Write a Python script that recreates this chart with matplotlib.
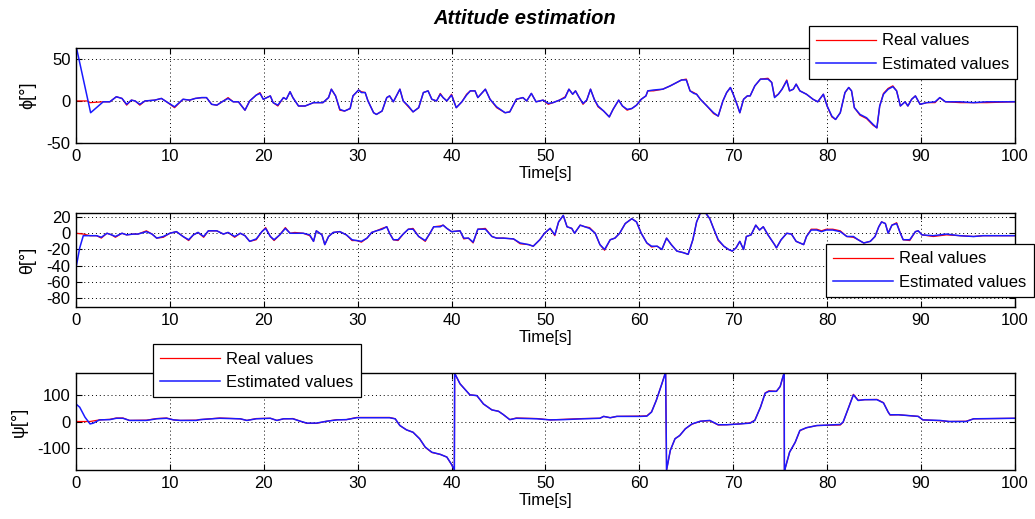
import matplotlib
matplotlib.use("Agg")
import matplotlib.pyplot as plt

plt.rcParams['font.family'] = ['Liberation Sans', 'DejaVu Sans']
plt.rcParams['axes.unicode_minus'] = False

# roll angle phi [deg]
phi_t = [0, 1.56, 2.9, 3.6, 4.3, 4.9, 5.4, 5.9, 6.3, 6.8, 7.35, 8.4, 9.1, 9.65, 10.5, 11.4, 12.1, 12.7,
         13.4, 13.9, 14.45, 15.0, 15.7, 16.2, 16.75, 17.3, 18.0, 18.5, 19.2, 19.6, 19.95, 20.7, 21.0, 21.5,
         22.1, 22.4, 22.8, 23.1, 23.7, 24.4, 25.3, 26.3, 26.9, 27.2, 27.65, 28.1, 28.6, 29.2, 29.5, 30.1,
         30.4, 30.8, 31.1, 31.7, 32.0, 32.6, 33.1, 33.4, 33.8, 34.5, 34.85, 35.4, 35.9, 36.5, 37.0, 37.5,
         37.9, 38.4, 38.8, 39.1, 39.5, 40.0, 40.5, 41.1, 41.6, 42.0, 42.5, 42.8, 43.6, 44.1, 44.8, 45.7,
         46.2, 46.9, 47.6, 48.0, 48.5, 49.0, 49.75, 50.3, 50.8, 51.5, 52.1, 52.5, 52.9, 53.2, 53.6, 54.0,
         54.4, 54.8, 55.2, 55.6, 56.2, 56.8, 57.2, 57.8, 58.2, 58.7, 59.2, 59.7, 60.2, 60.7, 60.9, 61.5,
         62.5, 63.3, 64.0, 64.5, 65.0, 65.4, 65.8, 66.1, 66.5, 67.2, 67.9, 68.4, 68.9, 69.3, 69.7, 70.0,
         70.4, 70.7, 71.1, 71.5, 71.8, 72.3, 72.9, 73.7, 74.1, 74.4, 74.8, 75.2, 75.7, 76.0, 76.4, 76.7,
         77.1, 77.8, 78.5, 79.0, 79.6, 80.0, 80.5, 80.9, 81.4, 81.9, 82.3, 82.6, 82.9, 83.5, 84.2, 84.9,
         85.3, 85.6, 86.0, 86.5, 87.0, 87.4, 87.8, 88.3, 88.6, 89.0, 89.4, 89.9, 90.6, 91.5, 92.0, 92.6,
         94.2, 95.6, 97.0, 100]
phi_est = [66, -14, -1, -1, 5, 3, -4, 1, 0, -4, 0, 1, 3, -1, -7, 2, 1, 3,
           4, 4, -4, -5, 0, 3, -1, -1, -11, 0, 7, 9, 2, 6, -2, -5,
           4, 2, 11, 4, -6, -6, -2, -2, 4, 14, 6, -10, -12, -9, 6, 13,
           10, 10, 0, -14, -16, -12, 4, 6, -1, 14, 0, -6, -13, -8, 10, 12,
           2, 0, 8, 4, 0, 7, -8, -1, 7, 12, 12, 4, 14, 2, -7, -14,
           -13, 2, 4, 0, 9, -1, 1, -3, -2, 1, 4, 14, 8, 12, 4, -3,
           1, 14, 2, -6, -12, -19, -10, 1, -6, -10, -9, -5, 2, 6, 12, 13,
           14, 18, 22, 25, 25, 12, 9, 8, 2, -6, -14, -18, 0, 10, 16, 8,
           -4, -14, 2, 6, 6, 18, 26, 26, 22, 4, 8, 14, 24, 12, 14, 20,
           12, 8, 2, -1, 8, -6, -18, -22, -14, 10, 16, 12, -8, -16, -20, -28,
           -32, -6, 8, 14, 17, 12, -6, -1, -6, 2, 6, -4, -2, -1, 4, -1,
           -1, -2, -1, -1]
phi_real_t = [0, 1.2, 1.5, 2.9, 3.6, 4.3, 4.9, 5.4, 5.9, 6.3, 6.8, 7.35, 8.4, 9.1, 9.65, 10.5, 11.4, 12.1,
              12.7, 13.4, 13.9, 14.45, 15.0, 15.7, 16.2, 16.75, 17.3, 18.0, 18.5, 19.2, 19.6, 19.95, 20.7,
              21.0, 21.5, 22.1, 22.4, 22.8, 23.1, 23.7, 24.4, 25.3, 26.3, 26.9, 27.2, 27.65, 28.1, 28.6, 29.2,
              29.5, 30.1, 30.4, 30.8, 31.1, 31.7, 32.0, 32.6, 33.1, 33.4, 33.8, 34.5, 34.85, 35.4, 35.9, 36.5,
              37.0, 37.5, 37.9, 38.4, 38.8, 39.1, 39.5, 40.0, 40.5, 41.1, 41.6, 42.0, 42.5, 42.8, 43.6, 44.1,
              44.8, 45.7, 46.2, 46.9, 47.6, 48.0, 48.5, 49.0, 49.75, 50.3, 50.8, 51.5, 52.1, 52.5, 52.9, 53.2,
              53.6, 54.0, 54.4, 54.8, 55.2, 55.6, 56.2, 56.8, 57.2, 57.8, 58.2, 58.7, 59.2, 59.7, 60.2, 60.7,
              60.9, 61.5, 62.5, 63.3, 64.0, 64.5, 65.0, 65.4, 65.8, 66.1, 66.5, 67.2, 67.9, 68.4, 68.9, 69.3,
              69.7, 70.0, 70.4, 70.7, 71.1, 71.5, 71.8, 72.3, 72.9, 73.7, 74.1, 74.4, 74.8, 75.2, 75.7, 76.0,
              76.4, 76.7, 77.1, 77.8, 78.5, 79.0, 79.6, 80.0, 80.5, 80.9, 81.4, 81.9, 82.3, 82.6, 82.9, 83.5,
              84.2, 84.9, 85.3, 85.6, 86.0, 86.5, 87.0, 87.4, 87.8, 88.3, 88.6, 89.0, 89.4, 89.9, 90.6, 91.5,
              92.0, 92.6, 94.2, 95.6, 97.0, 100]
phi_real = [0, 0, -2, -1, -1, 5, 3, -5, 1, 0, -5, 0, 1, 3, -1, -8, 2, 1,
            3, 4, 4, -4, -5, 0, 4, -1, -1, -11, 0, 7, 10, 2, 6, -2,
            -6, 4, 2, 11, 4, -6, -6, -2, -2, 4, 14, 6, -11, -12, -9,
            6, 13, 11, 10, 0, -14, -16, -12, 4, 6, -1, 14, 0, -7, -13, -8,
            10, 12, 2, 0, 9, 4, 0, 8, -8, -1, 8, 12, 12, 4, 14, 2,
            -8, -14, -13, 2, 4, 0, 9, -1, 1, -4, -2, 1, 5, 14, 8, 12,
            4, -4, 1, 14, 2, -7, -12, -19, -10, 1, -6, -11, -9, -5, 2, 6,
            12, 12, 14, 18, 22, 25, 26, 12, 10, 8, 2, -6, -15, -18, 0, 10,
            16, 8, -4, -14, 2, 6, 6, 18, 26, 27, 22, 5, 8, 14, 25, 12,
            14, 20, 12, 8, 2, -1, 8, -6, -19, -22, -14, 10, 16, 12, -8, -17,
            -21, -29, -32, -6, 9, 15, 18, 12, -6, -1, -6, 2, 6, -4, -2, -2,
            4, -1, -2, -2, -2, -1]

# pitch angle theta [deg]
theta_t = [0, 0.4, 0.78, 1.5, 2.2, 2.7, 3.3, 3.8, 4.2, 4.9, 5.4, 6.1, 6.6, 7.5, 8.1, 8.6, 9.3, 10.0,
           10.7, 11.4, 12.0, 12.5, 13.0, 13.6, 14.1, 15.0, 15.7, 16.2, 16.9, 17.5, 18.0, 18.5, 19.2, 19.8,
           20.2, 20.7, 21.1, 21.7, 22.3, 22.8, 23.3, 24.2, 24.9, 25.3, 25.6, 26.2, 26.5, 26.9, 27.4, 28.1,
           28.8, 29.4, 29.9, 30.4, 31.0, 31.5, 32.0, 32.6, 33.1, 33.4, 33.8, 34.3, 34.85, 35.4, 35.9, 36.5,
           37.2, 37.7, 38.1, 38.8, 39.1, 39.5, 40.0, 40.9, 41.3, 41.8, 42.3, 42.8, 43.6, 44.3, 44.8, 45.5,
           46.6, 47.3, 48.2, 48.7, 49.4, 49.9, 50.5, 51.0, 51.4, 51.9, 52.3, 52.8, 53.1, 53.7, 54.2, 54.7,
           55.3, 55.8, 56.3, 56.9, 57.4, 57.9, 58.5, 59.2, 59.7, 60.2, 60.8, 61.3, 61.9, 62.4, 62.9, 63.4,
           64.0, 64.7, 65.2, 65.7, 66.1, 66.5, 67.0, 67.5, 67.9, 68.4, 69.0, 69.5, 69.9, 70.3, 70.7, 71.1,
           71.4, 71.9, 72.4, 72.8, 73.2, 73.7, 74.4, 74.6, 75.1, 75.7, 76.2, 76.7, 77.5, 77.8, 78.3, 78.9,
           79.4, 79.9, 80.6, 81.4, 82.1, 82.8, 83.3, 83.9, 84.6, 85.1, 85.5, 85.8, 86.2, 86.5, 86.9, 87.4,
           87.8, 88.1, 88.8, 89.4, 89.7, 90.1, 91.3, 92.7, 94.1, 95.6, 96.6, 100]
theta_est = [-43, -18, -3, -3, -3, -5, 0, -2, -4, 0, -2, -1, -1, 2, -1, -6, -4, 0,
             2, -4, -8, -2, 1, -4, 3, 3, -1, 1, -4, 0, -3, -10, -7, 2,
             6, -4, -8, -2, 6, 0, 0, 0, -2, -10, 3, -2, -14, -4, 1, 2,
             -2, -8, -9, -10, -6, 1, 3, 5, 8, 0, -8, -8, -1, 5, 5, -4,
             -9, 0, 8, 8, 10, 6, 2, 3, -6, -6, -11, 5, 5, -4, -6, -6,
             -7, -12, -14, -16, -8, 0, 6, -2, 14, 22, 8, 6, 0, 10, 8, 6,
             0, -14, -20, -8, -6, 0, 12, 18, 14, 0, -12, -16, -16, -20, -6, -14,
             -22, -24, -26, -8, 14, 25, 26, 18, 6, -8, -16, -20, -22, -18, -10, -20,
             -4, -2, 10, 4, 8, -2, -14, -18, -8, 0, -1, -10, -14, -4, 4, 4,
             2, 4, 4, 2, -4, -4, -8, -12, -10, -4, 8, 14, 12, 0, 10, 12,
             0, -8, -8, 2, 3, -2, -3, -1, -3, -4, -3, -3]
theta_real_t = [0, 0.8, 1.5, 2.2, 2.7, 3.3, 3.8, 4.2, 4.9, 5.4, 6.1, 6.6, 7.5, 8.1, 8.6, 9.3, 10.0,
                10.7, 11.4, 12.0, 12.5, 13.0, 13.6, 14.1, 15.0, 15.7, 16.2, 16.9, 17.5, 18.0, 18.5, 19.2, 19.8,
                20.2, 20.7, 21.1, 21.7, 22.3, 22.8, 23.3, 24.2, 24.9, 25.3, 25.6, 26.2, 26.5, 26.9, 27.4, 28.1,
                28.8, 29.4, 29.9, 30.4, 31.0, 31.5, 32.0, 32.6, 33.1, 33.4, 33.8, 34.3, 34.85, 35.4, 35.9, 36.5,
                37.2, 37.7, 38.1, 38.8, 39.1, 39.5, 40.0, 40.9, 41.3, 41.8, 42.3, 42.8, 43.6, 44.3, 44.8, 45.5,
                46.6, 47.3, 48.2, 48.7, 49.4, 49.9, 50.5, 51.0, 51.4, 51.9, 52.3, 52.8, 53.1, 53.7, 54.2, 54.7,
                55.3, 55.8, 56.3, 56.9, 57.4, 57.9, 58.5, 59.2, 59.7, 60.2, 60.8, 61.3, 61.9, 62.4, 62.9, 63.4,
                64.0, 64.7, 65.2, 65.7, 66.1, 66.5, 67.0, 67.5, 67.9, 68.4, 69.0, 69.5, 69.9, 70.3, 70.7, 71.1,
                71.4, 71.9, 72.4, 72.8, 73.2, 73.7, 74.4, 74.6, 75.1, 75.7, 76.2, 76.7, 77.5, 77.8, 78.3, 78.9,
                79.4, 79.9, 80.6, 81.4, 82.1, 82.8, 83.3, 83.9, 84.6, 85.1, 85.5, 85.8, 86.2, 86.5, 86.9, 87.4,
                87.8, 88.1, 88.8, 89.4, 89.7, 90.1, 91.3, 92.7, 94.1, 95.6, 96.6, 100]
theta_real = [0, -1, -3, -3, -6, 0, -2, -5, 0, -2, -1, -1, 3, -1, -6, -5, 0,
              2, -4, -9, -2, 1, -5, 3, 3, -1, 1, -5, 0, -3, -10, -8, 2,
              7, -4, -9, -2, 7, 0, 1, 0, -3, -10, 3, -2, -14, -4, 1, 2,
              -2, -9, -9, -11, -6, 1, 3, 6, 8, 0, -8, -9, -1, 5, 6, -4,
              -10, 0, 8, 9, 10, 6, 2, 3, -7, -6, -12, 5, 6, -4, -6, -6,
              -7, -13, -14, -16, -8, 0, 6, -3, 14, 22, 8, 6, 0, 10, 8, 7,
              0, -14, -21, -8, -6, 0, 12, 18, 14, 0, -12, -17, -16, -20, -6, -14,
              -22, -24, -26, -8, 14, 25, 26, 18, 6, -9, -16, -20, -22, -18, -10, -20,
              -4, -2, 10, 4, 8, -2, -14, -18, -8, 0, -1, -10, -14, -4, 5, 5,
              3, 5, 5, 3, -4, -5, -8, -12, -10, -4, 8, 14, 12, 0, 10, 13,
              0, -8, -9, 2, 3, -2, -4, -2, -3, -4, -3, -3]

# yaw angle psi [deg]
psi_t = [0, 0.4, 0.96, 1.5, 1.85, 2.5, 3.6, 4.3, 5.0, 5.7, 7.5, 8.6, 9.65, 10.4, 11.1, 12.8, 13.2,
         15.3, 17.5, 18.2, 19.2, 20.7, 21.4, 22.1, 23.1, 23.9, 24.6, 25.6, 26.7, 27.8, 28.8, 29.9, 33.4,
         34.0, 34.5, 35.2, 35.9, 36.6, 37.2, 37.9, 38.8, 39.5, 40.0, 40.3, 40.33, 40.36, 40.9, 41.95, 42.7,
         43.4, 44.3, 45.0, 45.5, 46.2, 46.9, 49.1, 50.5, 51.9, 54.0, 55.8, 56.2, 56.9, 57.6, 60.1, 60.8,
         61.3, 61.8, 62.4, 62.75, 62.8, 62.9, 63.3, 63.8, 64.3, 64.9, 65.6, 66.5, 67.5, 68.4, 69.3, 70.7,
         71.8, 72.3, 72.9, 73.4, 73.8, 74.6, 75.0, 75.3, 75.42, 75.45, 75.5, 76.0, 76.6, 77.1, 77.8, 78.9,
         81.4, 81.7, 82.3, 82.8, 83.3, 84.0, 85.3, 86.0, 86.5, 86.7, 87.6, 89.7, 90.2, 92.0, 93.0, 94.8,
         95.6, 100]
psi_est = [65, 53, 16, -9, -6, 6, 7, 12, 12, 4, 4, 10, 12, 6, 4, 4, 7,
           12, 10, 4, 10, 12, 4, 10, 10, 1, -6, -6, 1, 6, 7, 14, 14,
           10, -15, -31, -40, -64, -95, -114, -122, -132, -159, -180, 180, 177, 140, 99, 96,
           65, 43, 38, 26, 7, 12, 10, 6, 7, 10, 12, 19, 14, 19, 19, 20,
           35, 78, 140, 178, 180, -180, -107, -64, -52, -27, -9, 1, 4, -12, -12, -9,
           -6, 4, 53, 105, 112, 112, 130, 167, 180, -180, -178, -114, -77, -33, -23, -15,
           -11, -2, 53, 99, 78, 81, 81, 69, 35, 25, 25, 19, 6, 4, 0, 0,
           10, 12]
psi_real_t = [0, 1.5, 2.5, 3.6, 4.3, 5.0, 5.7, 7.5, 8.6, 9.65, 10.4, 11.1, 12.8, 13.2,
              15.3, 17.5, 18.2, 19.2, 20.7, 21.4, 22.1, 23.1, 23.9, 24.6, 25.6, 26.7, 27.8, 28.8, 29.9, 33.4,
              34.0, 34.5, 35.2, 35.9, 36.6, 37.2, 37.9, 38.8, 39.5, 40.0, 40.3, 40.33, 40.36, 40.9, 41.95, 42.7,
              43.4, 44.3, 45.0, 45.5, 46.2, 46.9, 49.1, 50.5, 51.9, 54.0, 55.8, 56.2, 56.9, 57.6, 60.1, 60.8,
              61.3, 61.8, 62.4, 62.75, 62.8, 62.9, 63.3, 63.8, 64.3, 64.9, 65.6, 66.5, 67.5, 68.4, 69.3, 70.7,
              71.8, 72.3, 72.9, 73.4, 73.8, 74.6, 75.0, 75.3, 75.42, 75.45, 75.5, 76.0, 76.6, 77.1, 77.8, 78.9,
              81.4, 81.7, 82.3, 82.8, 83.3, 84.0, 85.3, 86.0, 86.5, 86.7, 87.6, 89.7, 90.2, 92.0, 93.0, 94.8,
              95.6, 100]
psi_real = [0, 0, 6, 8, 13, 13, 4, 5, 11, 13, 6, 4, 5, 7,
            13, 10, 4, 11, 12, 4, 10, 11, 1, -7, -7, 1, 7, 7, 15, 15,
            10, -15, -31, -40, -64, -96, -115, -122, -132, -160, -180, 180, 177, 140, 99, 96,
            65, 43, 38, 26, 7, 13, 11, 6, 8, 11, 12, 19, 14, 19, 20, 21,
            36, 78, 140, 178, 180, -180, -107, -64, -52, -27, -10, 1, 3, -13, -12, -9,
            -5, 5, 53, 106, 114, 112, 130, 167, 180, -180, -178, -114, -77, -34, -23, -15,
            -13, -3, 53, 101, 79, 81, 82, 70, 35, 24, 25, 19, 6, 3, 0, 1,
            10, 12]

panels = [
    (phi_t, phi_est, phi_real_t, phi_real, 'ϕ[°]', (-50, 63), [-50, 0, 50]),
    (theta_t, theta_est, theta_real_t, theta_real, 'θ[°]', (-91, 25), [-80, -60, -40, -20, 0, 20]),
    (psi_t, psi_est, psi_real_t, psi_real, 'ψ[°]', (-180, 180), [-100, 0, 100]),
]
ax_boxes = [
    [0.0734, 0.7245, 0.9072, 0.1830],
    [0.0734, 0.4085, 0.9072, 0.1811],
    [0.0734, 0.0944, 0.9072, 0.1869],
]
legend_pos = [('upper right', (0.9826, 0.950)),
              ('upper right', (0.9990, 0.530)),
              ('upper left', (0.1478, 0.337))]

fig = plt.figure(figsize=(10.35, 5.19), dpi=100)

for (t_est, y_est, t_real, y_real, ylab, ylim, yticks), box, (loc, anchor) in zip(panels, ax_boxes, legend_pos):
    ax = fig.add_axes(box)
    ax.plot(t_real, y_real, color='r', linewidth=0.9, label='Real values')
    ax.plot(t_est, y_est, color='#1a1aff', linewidth=1.1, label='Estimated values')
    ax.set_xlim(0, 100)
    ax.set_ylim(*ylim)
    ax.set_xticks(range(0, 101, 10))
    ax.set_yticks(yticks)
    ax.tick_params(direction='in', top=True, right=True, length=4, labelsize=12, pad=4)
    ax.grid(True, color='black', linestyle=(0, (1, 3)), linewidth=0.7)
    for s in ax.spines.values():
        s.set_linewidth(1.0)
    ax.set_xlabel('Time[s]', fontsize=12, labelpad=2)
    ax.set_ylabel(ylab, fontsize=13, labelpad=7)
    leg = ax.legend(loc=loc, bbox_to_anchor=anchor, bbox_transform=fig.transFigure,
                    fontsize=12, handlelength=3.6, labelspacing=0.5, borderpad=0.45,
                    handletextpad=0.35, fancybox=False, framealpha=1.0, borderaxespad=0)
    leg.get_frame().set_edgecolor('black')
    leg.get_frame().set_linewidth(0.9)
    leg.set_zorder(10)

fig.text(0.507, 0.965, 'Attitude estimation', ha='center', va='center',
         fontsize=14.5, fontweight='bold', fontstyle='italic')

fig.savefig('out.png', dpi=100)
